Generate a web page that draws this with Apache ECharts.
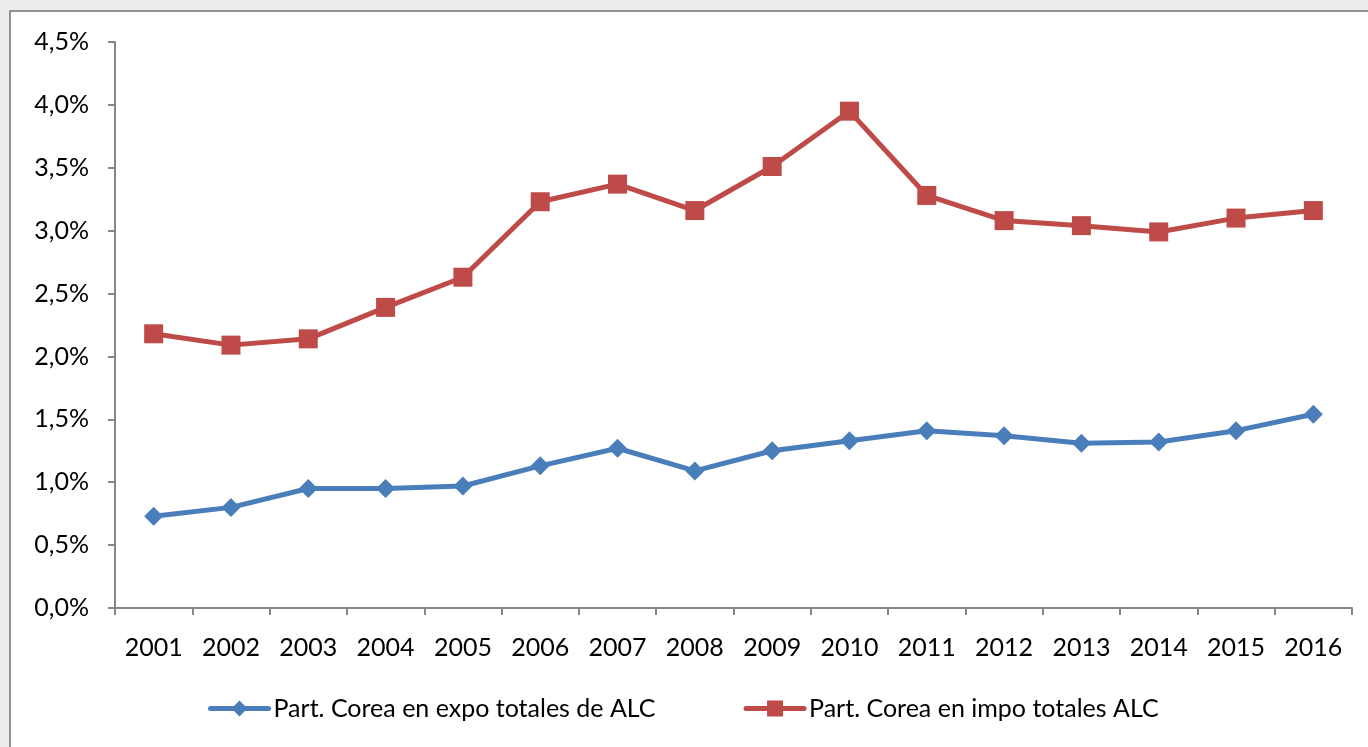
<!DOCTYPE html>
<html><head><meta charset="utf-8">
<script src="https://cdn.jsdelivr.net/npm/echarts@6/dist/echarts.min.js"></script>
<style>html,body{margin:0;padding:0;background:#fff}#main{width:1368px;height:747px}</style>
</head><body><div id="main"></div>
<script>
const years = ['2001','2002','2003','2004','2005','2006','2007','2008','2009','2010','2011','2012','2013','2014','2015','2016'];
const expoName = 'Part. Corea en expo totales de ALC';
const impoName = 'Part. Corea en impo totales ALC';
const expo = [0.73,0.80,0.95,0.95,0.97,1.13,1.27,1.09,1.25,1.33,1.41,1.37,1.31,1.32,1.41,1.54];
const impo = [2.18,2.09,2.14,2.39,2.63,3.23,3.37,3.16,3.51,3.95,3.28,3.08,3.04,2.99,3.10,3.16];

const chart = echarts.init(document.getElementById('main'));
const font = 'Lato, "Open Sans", sans-serif';
chart.setOption({
  backgroundColor: '#ffffff',
  animation: false,
  graphic: [
    {type:'rect', shape:{x:0,y:0,width:1368,height:10}, style:{fill:'#ebecee'}, z:-1},
    {type:'rect', shape:{x:0,y:0,width:9,height:747}, style:{fill:'#ebecee'}, z:-1},
    {type:'line', shape:{x1:9,y1:11,x2:1368,y2:11}, style:{stroke:'#939393',lineWidth:2}},
    {type:'line', shape:{x1:10,y1:11,x2:10,y2:747}, style:{stroke:'#939393',lineWidth:2}}
  ],
  grid: {left:115, right:16, top:42, bottom:139, containLabel:false},
  legend: {
    left: 203, top: 691,
    itemWidth: 58, itemHeight: 20, itemGap: 88,
    lineStyle: {width: 5, cap: 'round'},
    textStyle: {fontFamily: font, fontSize: 25, color:'#000'},
    data: [expoName, impoName]
  },
  xAxis: {
    type:'category', data: years, boundaryGap:true,
    axisLine:{lineStyle:{color:'#868686', width:2}},
    axisTick:{show:true, length:7, alignWithLabel:false, lineStyle:{color:'#868686', width:2}},
    axisLabel:{fontFamily:font, fontSize:25, color:'#000', margin:27}
  },
  yAxis: {
    type:'value', min:0, max:4.5, interval:0.5,
    splitLine:{show:false},
    axisLine:{show:true, lineStyle:{color:'#868686', width:2}},
    axisTick:{show:true, length:7, lineStyle:{color:'#868686', width:2}},
    axisLabel:{fontFamily:font, fontSize:25, color:'#000', margin:26,
      formatter: v => v.toFixed(1).replace('.',',') + '%'}
  },
  series: [
    {name: expoName, type:'line', data: expo, symbol:'diamond', symbolSize:19,
     lineStyle:{color:'#4a7ebb', width:5}, itemStyle:{color:'#4a7ebb'}},
    {name: impoName, type:'line', data: impo, symbol:'rect', symbolSize:19,
     lineStyle:{color:'#be4b48', width:5}, itemStyle:{color:'#be4b48'}}
  ]
});
</script></body></html>
